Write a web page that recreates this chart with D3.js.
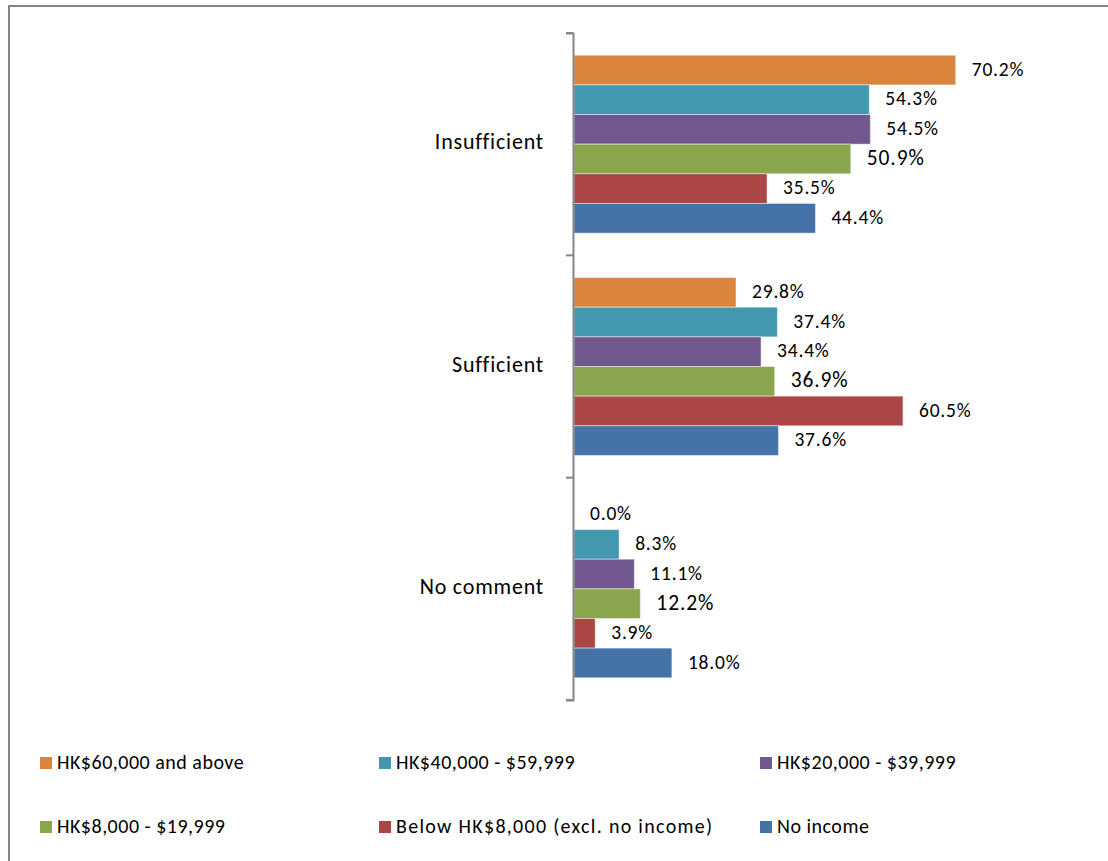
<!DOCTYPE html>
<html>
<head>
<meta charset="utf-8">
<script src="https://cdn.jsdelivr.net/npm/d3@7"></script>
<style>
  html, body { margin: 0; padding: 0; background: #fff; }
  svg { display: block; }
  text { font-family: Calibri, Carlito, Lato, "Open Sans", sans-serif; fill: #000; }
</style>
</head>
<body>
<svg id="chart" width="1108" height="861"></svg>
<script>
// Response categories (top to bottom)
const categories = ["Insufficient", "Sufficient", "No comment"];

// Monthly household income groups, drawn top to bottom inside each category
const seriesNames = [
  "HK$60,000 and above",
  "HK$40,000 - $59,999",
  "HK$20,000 - $39,999",
  "HK$8,000 - $19,999",
  "Below HK$8,000 (excl. no income)",
  "No income"
];

// Percentages per series, in category order
const inc60kPlus   = [70.2, 29.8, 0.0];
const inc40to60k   = [54.3, 37.4, 8.3];
const inc20to40k   = [54.5, 34.4, 11.1];
const inc8to20k    = [50.9, 36.9, 12.2];
const incBelow8k   = [35.5, 60.5, 3.9];
const incNone      = [44.4, 37.6, 18.0];

const seriesValues = [inc60kPlus, inc40to60k, inc20to40k, inc8to20k, incBelow8k, incNone];
const seriesColors = ["#DB843D", "#4198AF", "#71588F", "#89A54E", "#AA4643", "#4572A7"];

const svg = d3.select("#chart");

// Outer chart frame
svg.append("rect")
  .attr("x", 9).attr("y", 6)
  .attr("width", 1120).attr("height", 880)
  .attr("fill", "none")
  .attr("stroke", "#868686")
  .attr("stroke-width", 2);

const x = d3.scaleLinear().domain([0, 80]).range([574, 1009]);
const y = d3.scaleBand().domain(categories).range([33, 700]).paddingInner(0).paddingOuter(0);
const yInner = d3.scaleBand().domain(seriesNames).range([0, y.bandwidth()])
  .paddingInner(0).paddingOuter(0.75);

// Bars
const groups = svg.append("g").selectAll("g")
  .data(categories)
  .join("g")
  .attr("transform", d => `translate(0,${y(d)})`);

groups.each(function (cat, ci) {
  const g = d3.select(this);
  const rows = seriesNames.map((name, si) => ({ name, si, v: seriesValues[si][ci] }));
  g.selectAll("rect")
    .data(rows)
    .join("rect")
    .attr("x", x(0))
    .attr("y", d => yInner(d.name))
    .attr("width", d => x(d.v) - x(0))
    .attr("height", yInner.bandwidth())
    .attr("fill", d => seriesColors[d.si])
    .attr("stroke", d => d.v > 0 ? "rgba(255,255,255,0.45)" : "none")
    .attr("stroke-width", 1);

  g.selectAll("text.val")
    .data(rows)
    .join("text")
    .attr("class", "val")
    .attr("x", d => x(d.v) + 16)
    .attr("y", d => yInner(d.name) + yInner.bandwidth() / 2 + 1)
    .attr("dominant-baseline", "middle")
    .style("font-size", d => d.si === 3 ? "21.5px" : "19.5px")
    .style("letter-spacing", d => d.si === 3 ? "0.9px" : "0.8px")
    .text(d => d.v.toFixed(1) + "%");
});

// Category axis on the left of the bars
const axis = d3.axisLeft(y).tickSize(7).tickSizeOuter(7).tickFormat("");
const axisG = svg.append("g")
  .attr("transform", `translate(${x(0) - 1},0)`)
  .call(axis);
axisG.select(".domain").attr("stroke", "#868686").attr("stroke-width", 2);
// Excel-style ticks sit between categories, so place them on band boundaries
axisG.selectAll(".tick").remove();
const boundaries = categories.map(c => y(c)).concat([y.range()[1]]);
axisG.selectAll("line.sep")
  .data(boundaries)
  .join("line")
  .attr("class", "sep")
  .attr("x1", -7).attr("x2", 0)
  .attr("y1", d => d).attr("y2", d => d)
  .attr("stroke", "#868686")
  .attr("stroke-width", 2);

svg.append("g").selectAll("text")
  .data(categories)
  .join("text")
  .attr("x", 544)
  .attr("y", d => y(d) + y.bandwidth() / 2)
  .attr("dominant-baseline", "middle")
  .attr("text-anchor", "end")
  .style("font-size", "22px")
  .style("letter-spacing", "0.8px")
  .text(d => d);

// Legend: three columns, two rows
const legendCols = [40, 379, 760];
const legendRows = [763, 827];
const legend = svg.append("g").selectAll("g")
  .data(seriesNames)
  .join("g")
  .attr("transform", (d, i) => `translate(${legendCols[i % 3]},${legendRows[Math.floor(i / 3)]})`);
legend.append("rect")
  .attr("x", 0).attr("y", -6)
  .attr("width", 12).attr("height", 12)
  .attr("fill", (d, i) => seriesColors[i]);
legend.append("text")
  .attr("x", 17).attr("y", 1)
  .attr("dominant-baseline", "middle")
  .style("font-size", "20px")
  .style("letter-spacing", (d, i) => i === 4 ? "1.3px" : "0.5px")
  .text(d => d);
</script>
</body>
</html>
